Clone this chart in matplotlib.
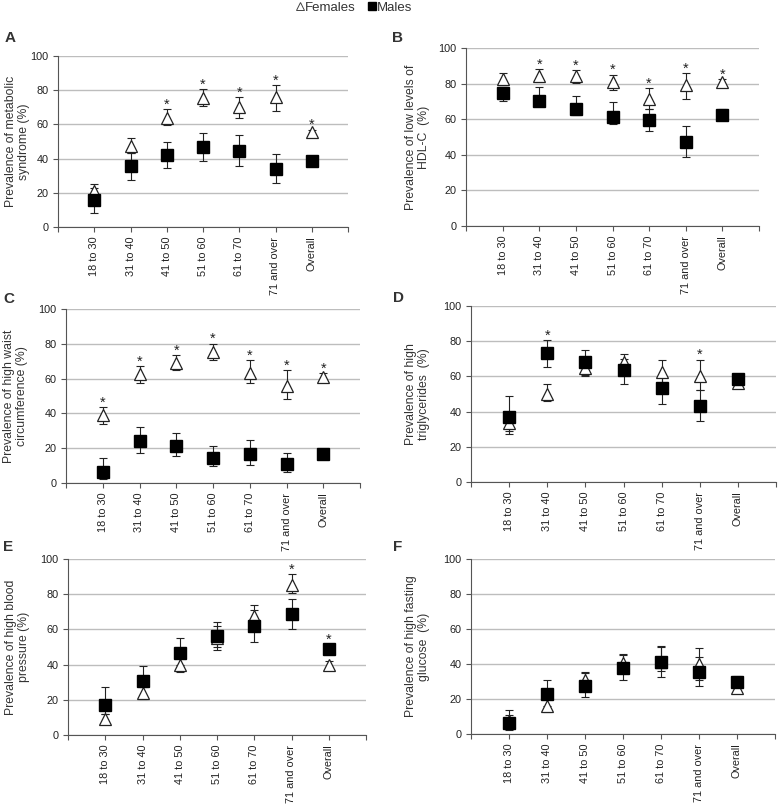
"""Prevalence of metabolic syndrome and its components by age group and sex."""

import matplotlib

matplotlib.use("Agg")

import matplotlib.pyplot as plt
import numpy as np
from matplotlib.lines import Line2D

plt.rcParams["font.family"] = ["Liberation Sans", "DejaVu Sans"]

AGE_GROUPS = ["18 to 30", "31 to 40", "41 to 50", "51 to 60", "61 to 70", "71 and over", "Overall"]

# A - metabolic syndrome
mets_f = [21, 47.5, 64, 75.5, 70, 76, 55.5]
mets_f_lo = [17, 43.5, 59.5, 70.5, 63.5, 68, 54]
mets_f_hi = [25, 52, 69, 80.5, 76, 83, 57]
mets_m = [15.5, 35.5, 42, 46.5, 44.5, 34, 38.5]
mets_m_lo = [8, 27.5, 34.5, 38.5, 35.5, 26, 36.5]
mets_m_hi = [23, 43, 50, 55, 54, 42.5, 40.5]
mets_star = [0, 0, 1, 1, 1, 1, 1]

# B - low HDL-C
hdl_f = [82.5, 84.5, 84.5, 81, 71.5, 79, 81]
hdl_f_lo = [79, 81, 80.5, 76.5, 66, 71.5, 79.5]
hdl_f_hi = [86, 88, 87.5, 85, 77.5, 86, 82.5]
hdl_m = [74.5, 70.5, 65.5, 61.5, 59.5, 47, 62.5]
hdl_m_lo = [70, 67.5, 62.5, 57.5, 53.5, 39, 60]
hdl_m_hi = [78, 78, 73, 69.5, 65.5, 56, 65.5]
hdl_star = [0, 1, 1, 1, 1, 1, 1]

# C - high waist circumference
waist_f = [39, 62.5, 69, 75.5, 63.5, 56, 61]
waist_f_lo = [34, 57.5, 65, 70.5, 57.5, 48, 59]
waist_f_hi = [43.5, 67, 73.5, 80, 70.5, 65, 63]
waist_m = [6.5, 24, 21.5, 14.5, 16.5, 11, 16.5]
waist_m_lo = [2.5, 17.5, 15.5, 10, 10.5, 6.5, 15]
waist_m_hi = [14.5, 32, 29, 21, 25, 17.5, 18]
waist_star = [1, 1, 1, 1, 1, 1, 1]

# D - high triglycerides
tg_f = [33.5, 50, 65, 68, 62.5, 60.5, 56]
tg_f_lo = [27, 46, 60.5, 63.5, 56.5, 52, 54.5]
tg_f_hi = [38, 55.5, 69, 72.5, 69.5, 69.5, 57.5]
tg_m = [37, 73.5, 68, 63.5, 53.5, 43, 58.5]
tg_m_lo = [29, 65.5, 61, 55.5, 44.5, 34.5, 57]
tg_m_hi = [49, 80.5, 75, 70, 60, 52, 60]
tg_star = [0, 1, 0, 0, 0, 1, 0]

# E - high blood pressure
bp_f = [9, 24, 40, 55, 67.5, 85.5, 40]
bp_f_lo = [6, 20.5, 36, 50, 61, 80.5, 38.5]
bp_f_hi = [12, 27.5, 44, 62, 74, 91.5, 42]
bp_m = [17, 30.5, 46.5, 56, 62, 69, 49]
bp_m_lo = [12, 23, 40, 48.5, 53, 60.5, 46.5]
bp_m_hi = [27, 39, 55, 64, 71, 77, 51.5]
bp_star = [0, 0, 0, 0, 0, 1, 1]

# F - high fasting glucose
glu_f = [7.5, 16, 31, 40.5, 41, 40, 26.5]
glu_f_lo = [4, 12.5, 26.5, 35, 36, 31, 24.5]
glu_f_hi = [11, 20, 35.5, 45, 50.5, 49, 28.5]
glu_m = [6.5, 23, 27.5, 38, 41, 35.5, 30]
glu_m_lo = [2.5, 16, 21, 31, 32.5, 27.5, 27.5]
glu_m_hi = [14, 31, 35, 46, 50, 44, 33]
glu_star = [0, 0, 0, 0, 0, 0, 0]

INK = "#222222"
AXIS = "#555555"
GRID = "#bdbdbd"

W, H = 778, 808
fig = plt.figure(figsize=(W / 100, H / 100), dpi=100)


def add_axes(left, right, y0, y100):
    # pixel box of the plotting area (x from left to right, y=0 and y=100 rows)
    return fig.add_axes([left / W, 1 - y0 / H, (right - left) / W, (y0 - y100) / H])


def panel(ax, letter, letter_xy, ylabel, label_px, f, f_lo, f_hi, m, m_lo, m_hi, stars):
    x = np.arange(1, len(AGE_GROUPS) + 1)
    f, f_lo, f_hi = map(np.asarray, (f, f_lo, f_hi))
    m, m_lo, m_hi = map(np.asarray, (m, m_lo, m_hi))

    ax.set_xlim(0, 8)
    ax.set_ylim(0, 100)
    ax.set_yticks(np.arange(0, 101, 20))
    ax.set_xticks(np.arange(0, 9))
    ax.set_xticklabels([""] + AGE_GROUPS + [""], rotation=90)
    ax.grid(axis="y", color=GRID, linewidth=1.0, zorder=0)
    ax.spines[["top", "right"]].set_visible(False)
    ax.spines[["left", "bottom"]].set_color(AXIS)
    ax.tick_params(axis="both", colors=AXIS, labelcolor=INK, labelsize=7.8,
                   length=3.5, width=0.8, direction="out")

    bars = dict(fmt="none", ecolor=INK, elinewidth=0.8, capsize=2.7,
                capthick=0.8, zorder=3)
    ax.errorbar(x, f, yerr=[f - f_lo, f_hi - f], **bars)
    ax.plot(x, f, linestyle="none", marker="^", markersize=8.5,
            markerfacecolor="white", markeredgecolor=INK, markeredgewidth=0.9,
            zorder=4)
    ax.errorbar(x, m, yerr=[m - m_lo, m_hi - m], **bars)
    ax.plot(x, m, linestyle="none", marker="s", markersize=8.5,
            markerfacecolor="black", markeredgecolor="black", zorder=5)

    top = np.maximum(f_hi, m_hi)
    for xi, yi, s in zip(x, top, stars):
        if s:
            ax.text(xi, yi + 0.3, "*", ha="center", va="baseline",
                    fontsize=10.5, color=INK, zorder=6)

    ax.set_ylabel(ylabel, fontsize=8.8, color="#333333", linespacing=1.12)
    # label_px: pixel column of the label's right edge
    bbox = ax.get_position()
    ax.yaxis.set_label_coords((label_px / W - bbox.x0) / bbox.width, 0.5)
    fig.text(letter_xy[0] / W, 1 - letter_xy[1] / H, letter, fontsize=11,
             fontweight="bold", color="#333333")


axA = add_axes(58, 348, 227, 56)
axB = add_axes(466, 759, 226, 48)
axC = add_axes(66, 360, 483, 309)
axD = add_axes(471, 776, 482, 306)
axE = add_axes(68, 366, 735, 559)
axF = add_axes(471, 775, 734, 559)

panel(axA, "A", (5, 42), "Prevalence of metabolic\nsyndrome (%)", 30,
      mets_f, mets_f_lo, mets_f_hi, mets_m, mets_m_lo, mets_m_hi, mets_star)
panel(axB, "B", (392, 42), "Prevalence of low levels of\nHDL-C  (%)", 430,
      hdl_f, hdl_f_lo, hdl_f_hi, hdl_m, hdl_m_lo, hdl_m_hi, hdl_star)
panel(axC, "C", (3, 303), "Prevalence of high waist\ncircumference (%)", 28,
      waist_f, waist_f_lo, waist_f_hi, waist_m, waist_m_lo, waist_m_hi, waist_star)
panel(axD, "D", (393, 302), "Prevalence of high\ntriglycerides  (%)", 430,
      tg_f, tg_f_lo, tg_f_hi, tg_m, tg_m_lo, tg_m_hi, tg_star)
panel(axE, "E", (3, 551), "Prevalence of high blood\npressure (%)", 30,
      bp_f, bp_f_lo, bp_f_hi, bp_m, bp_m_lo, bp_m_hi, bp_star)
panel(axF, "F", (393, 551), "Prevalence of high fasting\nglucose  (%)", 430,
      glu_f, glu_f_lo, glu_f_hi, glu_m, glu_m_lo, glu_m_hi, glu_star)

handles = [
    Line2D([], [], linestyle="none", marker="^", markersize=5.5,
           markerfacecolor="white", markeredgecolor="#444444", markeredgewidth=0.7),
    Line2D([], [], linestyle="none", marker="s", markersize=5.5,
           markerfacecolor="black", markeredgecolor="black"),
]
fig.legend(handles, ["Females", "Males"], loc="center", ncol=2,
           bbox_to_anchor=(355 / W, 1 - 8 / H), frameon=False, fontsize=9.5,
           handlelength=0.45, handletextpad=0.15, columnspacing=1.0,
           borderpad=0.1, labelcolor="#333333")

fig.savefig("out.png", dpi=100)
